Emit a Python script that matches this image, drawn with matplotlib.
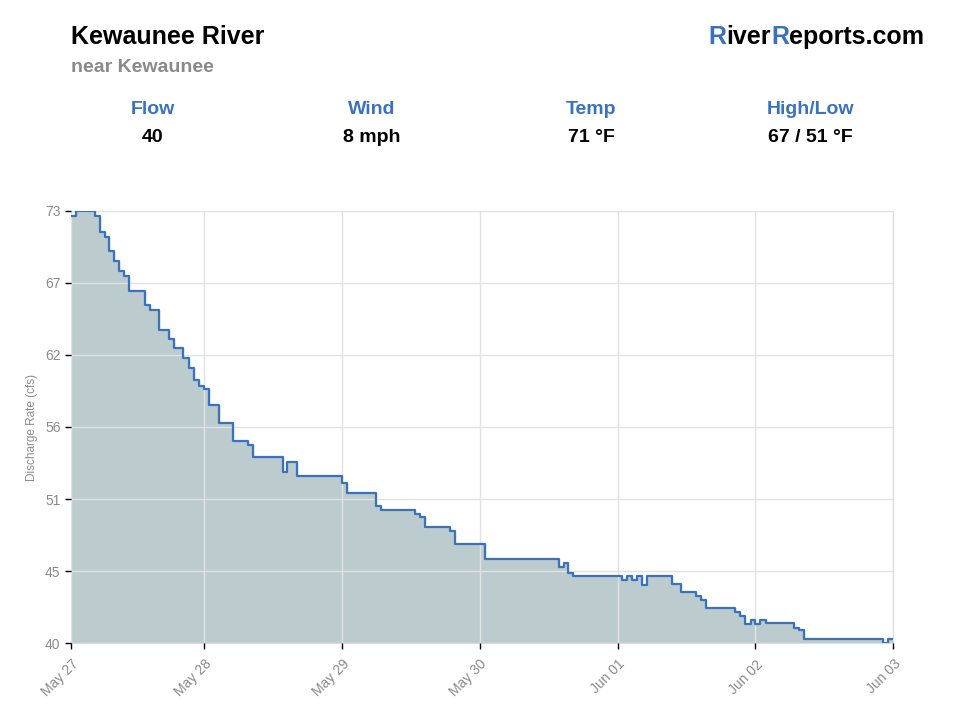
import matplotlib
matplotlib.use("Agg")
import matplotlib.pyplot as plt
import numpy as np

plt.rcParams['font.family'] = ['Liberation Sans', 'DejaVu Sans']

# flow readings: hours since start of window, discharge (cfs)
hours = [0, 1, 5, 6, 7, 8, 9, 10, 11, 12.2, 15.5, 16.5, 18.4, 20.5, 21.6,
         23.5, 24.7, 25.6, 26.7, 27.7, 28.8, 30.9, 33.9, 37.0, 38.1, 44.2,
         45.2, 47.3, 56.6, 57.6, 63.7, 64.8, 71.9, 73.0, 74.0, 79.2, 80.2,
         86.4, 101.9, 102.9, 103.8, 104.9, 115.2, 116.2, 117.2, 118.3, 119.3,
         120.3, 125.5, 127.5, 130.6, 131.6, 132.7, 138.8, 139.8, 140.9, 142.0,
         143.0, 144.0, 145.1, 151.1, 152.2, 153.2, 169.7, 170.7, 171.8]
flow = [72.6, 73.0, 72.6, 71.4, 71.0, 69.9, 69.2, 68.4, 68.0, 66.9, 65.8,
        65.4, 63.9, 63.2, 62.5, 61.8, 61.0, 60.1, 59.6, 59.4, 58.2, 56.8,
        55.4, 55.15, 54.2, 53.1, 53.8, 52.8, 52.2, 51.5, 50.5, 50.2, 49.9,
        49.6, 48.9, 48.6, 47.6, 46.4, 45.8, 46.1, 45.4, 45.1, 44.8, 45.1,
        44.8, 45.1, 44.45, 45.1, 44.5, 43.9, 43.6, 43.3, 42.7, 42.4, 42.1,
        41.5, 41.8, 41.5, 41.8, 41.55, 41.2, 41.0, 40.3, 40.0, 40.3, 40.3]

tick_hours = [0, 27.8, 56.6, 85.4, 114.2, 143.0, 171.8]
tick_labels = ['May 27', 'May 28', 'May 29', 'May 30', 'Jun 01', 'Jun 02', 'Jun 03']

stat_names = ['Flow', 'Wind', 'Temp', 'High/Low']
stat_values = ['40', '8 mph', '71 °F', '67 / 51 °F']

blue = '#3a72bd'
gray = '#8a8a8a'

fig = plt.figure(figsize=(9.6, 7.2), dpi=100)
renderer = fig.canvas.get_renderer()

# header
fig.text(71/960, 1 - 37/720, 'Kewaunee River', fontsize=18, fontweight='bold',
         color='black', ha='left', va='center')
fig.text(71/960, 1 - 68/720, 'near Kewaunee', fontsize=14, fontweight='bold',
         color=gray, ha='left', va='center')

# brand: blue R's, placed piece by piece from the right edge
pieces = [('R', blue), ('iver', 'black'), ('R', blue), ('eports.com', 'black')]
widths = []
for txt, col in pieces:
    t = fig.text(0, 0, txt, fontsize=18, fontweight='bold', alpha=0)
    widths.append(t.get_window_extent(renderer).width)
    t.remove()
full = fig.text(0, 0, 'RiverReports.com', fontsize=18, fontweight='bold', alpha=0)
full_w = full.get_window_extent(renderer).width
full.remove()
scale = full_w / sum(widths)
x = 924 - full_w
for (txt, col), w in zip(pieces, widths):
    fig.text(x/960, 1 - 37/720, txt, fontsize=18, fontweight='bold',
             color=col, ha='left', va='center')
    x += w * scale

stat_x = [153, 372, 591, 810]
for sx, name, val in zip(stat_x, stat_names, stat_values):
    fig.text(sx/960, 1 - 109/720, name, fontsize=14, fontweight='bold',
             color=blue, ha='center', va='center')
    fig.text(sx/960, 1 - 137/720, val, fontsize=14, fontweight='bold',
             color='black', ha='center', va='center')

ax = fig.add_axes([71/960, 1 - 643.3/720, 822.3/960, 432.6/720])
ax.fill_between(hours, flow, min(flow), step='post', color='#bccbce', zorder=1)
ax.step(hours, flow, where='post', color=blue, lw=1.6, zorder=3)

ax.set_xlim(tick_hours[0], tick_hours[-1])
ax.set_ylim(min(flow), max(flow))
ax.set_xticks(tick_hours)
ax.set_xticklabels(tick_labels, rotation=45, ha='right', rotation_mode='anchor')
yt = np.linspace(min(flow), max(flow), 7)
ax.set_yticks(yt)
ax.set_yticklabels([str(int(v)) for v in yt])

ax.set_axisbelow(False)
ax.grid(True, color='#e2e2e2', lw=1.0, zorder=2)
for s in ax.spines.values():
    s.set_color('#dddddd')
ax.tick_params(axis='both', colors='black', labelcolor=gray, labelsize=10,
               length=4, width=1)
ax.tick_params(axis='x', pad=6)
ax.set_ylabel('Discharge Rate (cfs)', color=gray, fontsize=8.5, labelpad=5)

fig.savefig('out.png', dpi=100)
